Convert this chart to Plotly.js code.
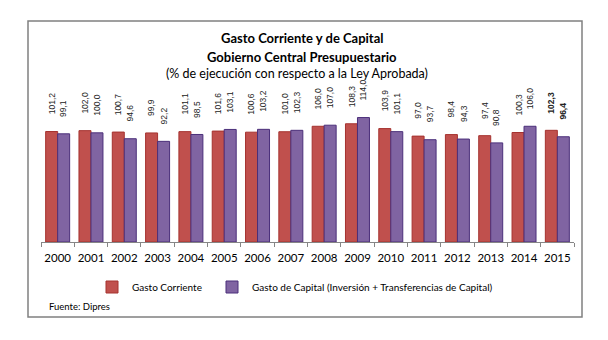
<!DOCTYPE html>
<html>
<head>
<meta charset="utf-8">
<script src="https://cdn.plot.ly/plotly-3.0.1.min.js"></script>
<style>
html,body{margin:0;padding:0;background:#fff;}
#chart{width:608px;height:340px;}
</style>
</head>
<body>
<div id="chart"></div>
<script>
var years = ['2000','2001','2002','2003','2004','2005','2006','2007','2008','2009','2010','2011','2012','2013','2014','2015'];
var gastoCorriente = [101.2,102.0,100.7,99.9,101.1,101.6,100.6,101.0,106.0,108.3,103.9,97.0,98.4,97.4,100.3,102.3];
var gastoCapital = [99.1,100.0,94.6,92.2,98.5,103.1,103.2,102.3,107.0,114.0,101.1,93.7,94.3,90.8,106.0,96.4];
var seriesNames = ['Gasto Corriente','Gasto de Capital (Inversión + Transferencias de Capital)'];

var fmt = function(v){ return v.toFixed(1).replace('.', ','); };
var FONT = 'Lato, "Open Sans", sans-serif';
var LBL = '"Liberation Sans", Arial, sans-serif';

var traces = [
  {type:'bar', name:seriesNames[0], x:years, y:gastoCorriente, legend:'legend',
   marker:{color:'#C0504D', line:{color:'#A5322F', width:1}}, hoverinfo:'skip'},
  {type:'bar', name:seriesNames[1], x:years, y:gastoCapital, legend:'legend2',
   marker:{color:'#8064A2', line:{color:'#4B2F7A', width:1}}, hoverinfo:'skip'}
];

var annotations = [];
function addLabels(vals, shift){
  vals.forEach(function(v,i){
    var last = (i === vals.length-1);
    annotations.push({x:i, y:v, xref:'x', yref:'y', text: last ? '<b>'+fmt(v)+'</b>' : fmt(v),
      showarrow:false, textangle:-90, xanchor:'center', yanchor:'bottom', xshift:shift, yshift:15,
      font:{family:LBL, size:8.5, color:'#222'}});
  });
}
addLabels(gastoCorriente, -6);
addLabels(gastoCapital, 6);

annotations.push({xref:'paper', yref:'paper', x:(302-41)/533, y:(242-38)/131, text:'<b>Gasto Corriente y de Capital</b>', showarrow:false, xanchor:'center', yanchor:'middle', font:{family:FONT, size:13, color:'#000'}});
annotations.push({xref:'paper', yref:'paper', x:(302-41)/533, y:(242-57)/131, text:'<b>Gobierno Central Presupuestario</b>', showarrow:false, xanchor:'center', yanchor:'middle', font:{family:FONT, size:13, color:'#000'}});
annotations.push({xref:'paper', yref:'paper', x:(297-41)/533, y:(242-73)/131, text:'(% de ejecución con respecto a la Ley Aprobada)', showarrow:false, xanchor:'center', yanchor:'middle', font:{family:FONT, size:12.5, color:'#000'}});
annotations.push({xref:'paper', yref:'paper', x:(47-41)/533, y:(242-306)/131, text:'Fuente: Dipres', showarrow:false, xanchor:'left', yanchor:'middle', font:{family:FONT, size:9.5, color:'#000'}});

var legendBase = {orientation:'h', xanchor:'left', y:(242-287)/131, yanchor:'middle',
  font:{family:FONT, size:10, color:'#000'}, itemclick:false, bgcolor:'rgba(0,0,0,0)', borderwidth:0};

var layout = {
  width:608, height:340,
  margin:{l:41, r:34, t:111, b:98, pad:0},
  paper_bgcolor:'#fff', plot_bgcolor:'#fff',
  barmode:'group', bargap:0.28, bargroupgap:0,
  showlegend:true,
  legend:Object.assign({}, legendBase, {x:(92-41)/533}),
  legend2:Object.assign({}, legendBase, {x:(212-41)/533}),
  xaxis:{type:'category', range:[-0.5, years.length-0.5], showline:true, linecolor:'#868686', linewidth:1, ticks:'outside', tickson:'boundaries',
    ticklen:4, tickcolor:'#868686', showgrid:false, tickangle:0, ticklabelstandoff:5, tickfont:{family:FONT, size:11.5, color:'#000'}, fixedrange:true},
  yaxis:{range:[0,120], visible:false, showgrid:false, zeroline:false, fixedrange:true},
  annotations:annotations,
  shapes:[{type:'rect', xref:'paper', yref:'paper', x0:(28-41)/533, x1:(582-41)/533, y0:(242-317)/131, y1:(242-21)/131,
    line:{color:'#808080', width:1.5}, fillcolor:'rgba(0,0,0,0)', layer:'below'}]
};

Plotly.newPlot('chart', traces, layout, {displayModeBar:false, staticPlot:true});
</script>
</body>
</html>
